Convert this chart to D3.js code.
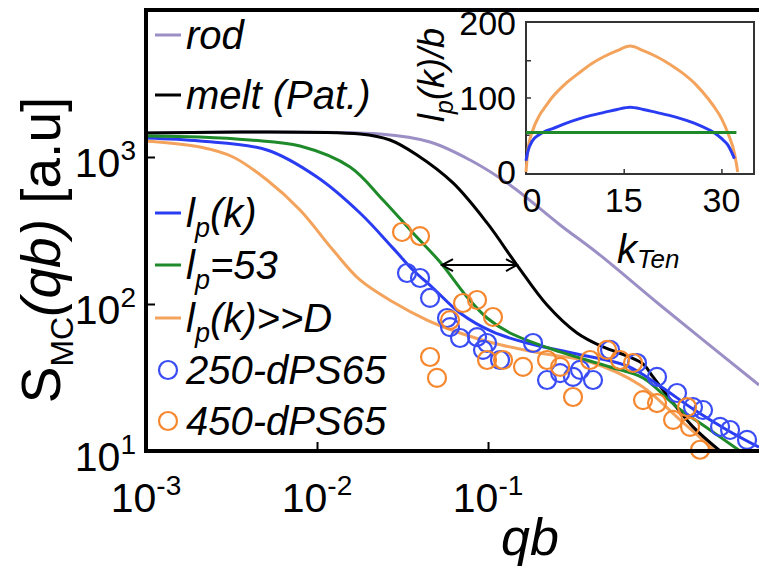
<!DOCTYPE html>
<html><head><meta charset="utf-8">
<script src="https://cdn.jsdelivr.net/npm/d3@7"></script>
<style>
body{margin:0;background:#fff;}
svg{display:block;font-family:"Liberation Sans",Arial,Helvetica,sans-serif;}
</style></head><body>
<svg id="chart" width="759" height="571"></svg>
<script>
// ---------- data (main panel: qb vs S_MC) ----------
const rodQ = [0.001, 0.0234, 0.0458, 0.0785, 0.1345, 0.264, 0.452, 1.013, 3.844];
const rodS = [1457, 1434, 1265, 954, 645, 345, 215, 98.4, 28.1];

const meltQ = [0.001, 0.01784, 0.02673, 0.03844, 0.06242, 0.0987, 0.1477, 0.2213, 0.3315, 0.4703, 0.650, 0.806, 0.922, 1.208, 1.580, 2.274];
const meltS = [1457, 1434, 1305, 1032, 666, 356, 184, 98.4, 63.5, 51.0, 44.3, 39.1, 31.9, 21.2, 14.6, 10];

const lp53Q = [0.001, 0.002069, 0.004058, 0.007957, 0.0156, 0.02432, 0.03641, 0.05241, 0.07538, 0.0987, 0.1345, 0.264, 0.517, 0.806, 1.274, 1.987, 2.977];
const lp53S = [1390, 1368, 1305, 1188, 855, 510, 304, 193, 111.6, 80.3, 63.5, 47.2, 37.3, 31.4, 19.9, 13.9, 10];

const lpkQ = [0.001, 0.002069, 0.0051, 0.01, 0.01784, 0.02782, 0.03641, 0.04768, 0.06859, 0.1069, 0.169, 0.3315, 0.650, 1.013, 1.580, 2.498, 3.844];
const lpkS = [1347, 1285, 1116, 731, 416, 240, 170.3, 128.5, 86.9, 64.5, 54.3, 45.7, 37.9, 27.7, 19.3, 13.9, 10.6];

const lpDQ = [0.001, 0.002069, 0.003228, 0.0051, 0.007957, 0.0124, 0.01784, 0.02782, 0.04398, 0.06859, 0.1069, 0.2014, 0.395, 0.774, 1.327, 2.126];
const lpDS = [1285, 1169, 1000, 697, 436, 233, 145.7, 103.2, 77.8, 63.5, 54.3, 46.4, 40.3, 28.1, 16.3, 10];

const d250Q = [0.03359, 0.04003, 0.0458, 0.05757, 0.05995, 0.06859, 0.08625, 0.0935, 0.0987, 0.1175, 0.1833, 0.2213, 0.264, 0.3141, 0.3451, 0.4111, 0.517, 0.7434, 0.973, 1.274, 1.580, 1.808, 2.274, 2.602, 3.27];
const d250S = [162.5, 150.3, 109.9, 80.3, 69.7, 58.7, 59.6, 48.7, 54.3, 41.6, 54.3, 30.4, 33.9, 31.9, 35.6, 30.4, 48.7, 39.7, 31.9, 24.8, 19.9, 19.0, 14.6, 13.9, 11.9];

const d450Q = [0.03141, 0.04003, 0.0458, 0.0503, 0.05995, 0.07142, 0.08625, 0.0987, 0.1069, 0.1224, 0.1602, 0.2213, 0.264, 0.3141, 0.395, 0.4965, 0.5914, 0.7047, 0.806, 0.973, 1.208, 1.458, 1.518, 1.737];
const d450S = [309, 290, 43.6, 31.4, 77.8, 101.6, 106.5, 41.6, 81.6, 41.6, 37.3, 41.6, 37.3, 23.3, 41.6, 48.7, 41.6, 39.7, 22.2, 21.2, 16.3, 19.9, 14.6, 10.2];

const arrowQ = [0.0538, 0.1477];
const arrowS = 184;

const xTicks = [1e-3, 1e-2, 1e-1];
const xTickExp = ["-3", "-2", "-1"];
const yTicks = [10, 100, 1000];
const yTickExp = ["1", "2", "3"];

// ---------- data (inset: l_p(k)/b vs k_Ten) ----------
const kOrange = [0, 0.3, 1, 2, 3, 4, 6, 8, 10, 12, 14, 16, 18, 20, 22, 24, 26, 28, 29, 30, 31, 32, 32.5];
const lpOrange = [0, 30, 55, 75, 88, 100, 118, 132, 145, 155, 163, 169, 163, 155, 145, 133, 118, 98, 86, 72, 52, 25, 0];
const kBlue = [0, 0.3, 1, 2, 3, 4, 6, 8, 10, 12, 14, 16, 18, 20, 22, 24, 26, 28, 29, 30, 31, 32];
const lpBlue = [15, 28, 42, 50, 55, 58, 65, 71, 76, 80, 84, 87, 84, 80, 76, 71, 65, 57, 52, 45, 36, 18];
const kGreen = [0, 32.3];
const lpGreen = [53, 53];
const insetXTicks = [0, 15, 30];
const insetYTicks = [0, 100, 200];

// ---------- colours ----------
const C = {rod:"#9b8fc6", melt:"#000000", lp53:"#1e8a2a", lpk:"#2a3cf2", lpD:"#f4a35c", c250:"#3a4cf4", c450:"#f5872e"};

const svg = d3.select("#chart");
const zip = (a,b) => a.map((v,i)=>[v,b[i]]);

// main scales
const x = d3.scaleLog().domain([1e-3, 4]).range([146, 762]);
const y = d3.scaleLog().domain([10, 1e4]).range([451, 10]);

svg.append("defs").append("clipPath").attr("id","plotclip")
  .append("rect").attr("x",146).attr("y",10).attr("width",620).attr("height",441);

// curves
const line = d3.line().x(d=>x(d[0])).y(d=>y(d[1])).curve(d3.curveCatmullRom.alpha(0.5));
const curves = svg.append("g").attr("clip-path","url(#plotclip)");
[[rodQ,rodS,C.rod],[lpDQ,lpDS,C.lpD],[meltQ,meltS,C.melt],[lpkQ,lpkS,C.lpk],[lp53Q,lp53S,C.lp53]].forEach(([q,s,c])=>{
  curves.append("path").attr("d",line(zip(q,s))).attr("fill","none").attr("stroke",c).attr("stroke-width",3);
});

// circles
[[d250Q,d250S,C.c250],[d450Q,d450S,C.c450]].forEach(([q,s,c])=>{
  svg.append("g").selectAll("circle").data(zip(q,s)).join("circle")
    .attr("cx",d=>x(d[0])).attr("cy",d=>y(d[1])).attr("r",9)
    .attr("fill","none").attr("stroke",c).attr("stroke-width",2.2);
});

// arrow
const ax0 = x(arrowQ[0]), ax1 = x(arrowQ[1]), ay = y(arrowS);
svg.append("path").attr("d",`M${ax0},${ay}H${ax1}M${ax0+11},${ay-6}L${ax0},${ay}L${ax0+11},${ay+6}M${ax1-11},${ay-6}L${ax1},${ay}L${ax1-11},${ay+6}`)
  .attr("fill","none").attr("stroke","#000").attr("stroke-width",2);

// axes (inward ticks)
const xAxis = d3.axisBottom(x).tickValues(xTicks).tickSizeInner(-9).tickSizeOuter(0).tickFormat("");
const yAxis = d3.axisLeft(y).tickValues(yTicks).tickSizeInner(-9).tickSizeOuter(0).tickFormat("");
const gx = svg.append("g").attr("transform","translate(0,451)").call(xAxis);
const gy = svg.append("g").attr("transform","translate(146,0)").call(yAxis);
[gx,gy].forEach(g=>{g.select(".domain").remove(); g.selectAll(".tick line").attr("stroke","#000").attr("stroke-width",2);});

// frame
svg.append("path").attr("d","M770,10H146V451H770").attr("fill","none").attr("stroke","#000").attr("stroke-width",4);

// tick labels
function powLabel(g, xx, yy, exp, anchor){
  const t = g.append("text").attr("x",xx).attr("y",yy).attr("text-anchor",anchor).style("font-size","41px").attr("fill","#000");
  t.append("tspan").text("10");
  t.append("tspan").attr("dy",-17).style("font-size","28px").text(exp);
}
xTicks.forEach((v,i)=>powLabel(svg, x(v), 512, xTickExp[i], "middle"));
yTicks.forEach((v,i)=>powLabel(svg, 136, y(v)+20, yTickExp[i], "end"));

// axis titles
const yl = svg.append("text").attr("transform","translate(60,250) rotate(-90)").attr("text-anchor","middle").style("font-size","55px");
yl.append("tspan").text("S");
yl.append("tspan").attr("dy",13).style("font-size","32px").text("MC");
yl.append("tspan").attr("dy",-13).style("font-style","italic").text("(qb)");
yl.append("tspan").text(" [a.u]");
svg.append("text").attr("x",530).attr("y",555).attr("text-anchor","middle").style("font-size","52px").style("font-style","italic").text("qb");

// legend
const leg = svg.append("g");
function lpLabel(t, rest){
  t.append("tspan").text("l");
  t.append("tspan").attr("dy",10).style("font-size","27px").text("p");
  t.append("tspan").attr("dy",-10).text(rest);
}
const legendLines = [
  {y:35, c:C.rod, txt:"rod"},
  {y:95, c:C.melt, txt:"melt (Pat.)"},
  {y:213, c:C.lpk, lp:"(k)"},
  {y:265, c:C.lp53, lp:"=53"},
  {y:318, c:C.lpD, lp:"(k)>>D"}
];
legendLines.forEach(e=>{
  leg.append("line").attr("x1",155).attr("x2",181).attr("y1",e.y).attr("y2",e.y).attr("stroke",e.c).attr("stroke-width",3);
  const t = leg.append("text").attr("x",186).attr("y",e.y+14).style("font-size","40px").style("font-style","italic");
  if(e.txt) t.text(e.txt); else lpLabel(t, e.lp);
});
[{y:370,c:C.c250,txt:"250-dPS65"},{y:421,c:C.c450,txt:"450-dPS65"}].forEach(e=>{
  leg.append("circle").attr("cx",168).attr("cy",e.y).attr("r",9).attr("fill","none").attr("stroke",e.c).attr("stroke-width",2.2);
  leg.append("text").attr("x",186).attr("y",e.y+14).style("font-size","40px").style("font-style","italic").text(e.txt);
});

// ---------- inset ----------
const ix = d3.scaleLinear().domain([0,35]).range([526,754]);
const iy = d3.scaleLinear().domain([0,200]).range([172,23]);
const ins = svg.append("g");
ins.append("rect").attr("x",526).attr("y",22).attr("width",228).attr("height",152).attr("fill","#fff").attr("stroke","#333").attr("stroke-width",2);
const ixAxis = d3.axisBottom(ix).tickValues([15,30]).tickSizeInner(-5).tickSizeOuter(0).tickFormat("");
const iyAxis = d3.axisLeft(iy).tickValues([50,100,150]).tickSizeInner(-5).tickSizeOuter(0).tickFormat("");
const igx = ins.append("g").attr("transform","translate(0,174)").call(ixAxis);
const igy = ins.append("g").attr("transform","translate(526,0)").call(iyAxis);
[igx,igy].forEach(g=>{g.select(".domain").remove(); g.selectAll(".tick line").attr("stroke","#333").attr("stroke-width",1.5);});
const iline = d3.line().x(d=>ix(d[0])).y(d=>iy(d[1])).curve(d3.curveMonotoneX);
[[kOrange,lpOrange,C.lpD],[kBlue,lpBlue,C.lpk],[kGreen,lpGreen,C.lp53]].forEach(([k,v,c])=>{
  ins.append("path").attr("d",iline(zip(k,v))).attr("fill","none").attr("stroke",c).attr("stroke-width",3);
});
insetXTicks.forEach(v=>ins.append("text").attr("x",ix(v)+ (v===0?6:0)).attr("y",212).attr("text-anchor","middle").style("font-size","34px").text(v));
insetYTicks.forEach(v=>ins.append("text").attr("x",516).attr("y",iy(v)+12).attr("text-anchor","end").style("font-size","34px").text(v));
const kt = ins.append("text").attr("x",617).attr("y",263).style("font-size","40px").style("font-style","italic");
kt.append("tspan").text("k");
kt.append("tspan").attr("dy",5).style("font-size","26px").text("Ten");
const il = ins.append("text").attr("transform","translate(444,75) rotate(-90)").attr("text-anchor","middle").style("font-size","36px").style("font-style","italic");
il.append("tspan").text("l");
il.append("tspan").attr("dy",9).style("font-size","25px").text("p");
il.append("tspan").attr("dy",-9).text("(k)/b");
</script>
</body></html>
